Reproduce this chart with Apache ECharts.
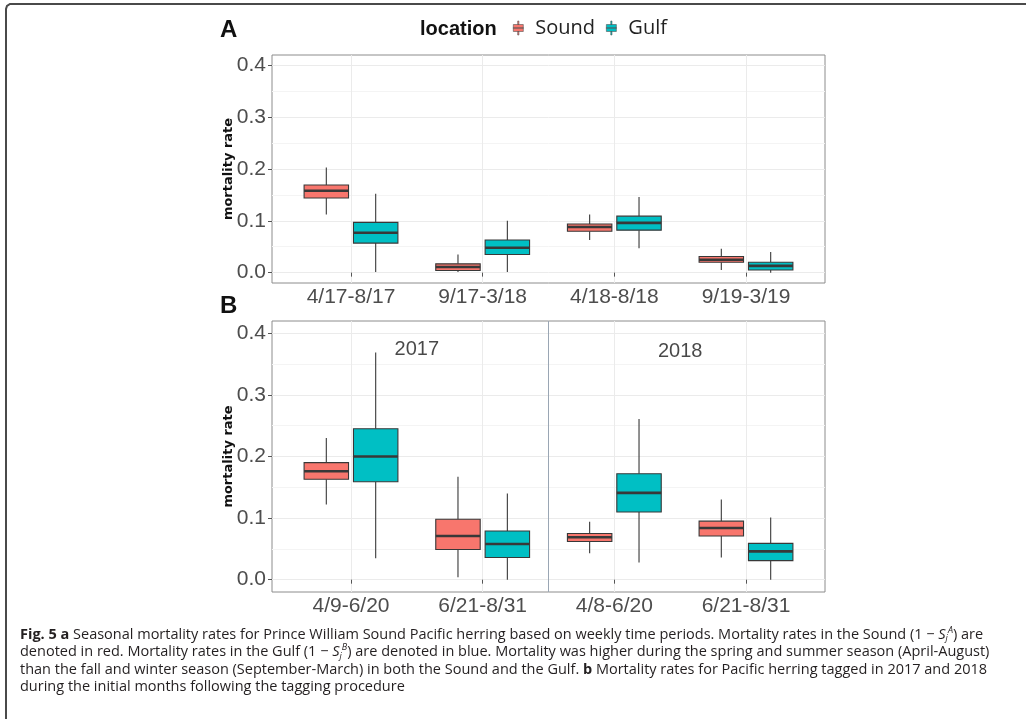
<!DOCTYPE html>
<html>
<head>
<meta charset="utf-8">
<script src="https://cdn.jsdelivr.net/npm/echarts@6/dist/echarts.min.js"></script>
<style>
  html, body { margin: 0; padding: 0; background: #ffffff; }
  #chart { width: 1026px; height: 719px; }
</style>
</head>
<body>
<div id="chart"></div>
<script>
// Time windows on the x axis of each panel
const categoriesA = ['4/17-8/17', '9/17-3/18', '4/18-8/18', '9/19-3/19'];
const categoriesB = ['4/9-6/20', '6/21-8/31', '4/8-6/20', '6/21-8/31'];

// Box statistics per window: [lower whisker, Q1, median, Q3, upper whisker]
const soundA = [
  [0.112, 0.144, 0.158, 0.169, 0.203],
  [0.001, 0.004, 0.011, 0.017, 0.035],
  [0.063, 0.080, 0.088, 0.094, 0.112],
  [0.005, 0.020, 0.025, 0.031, 0.046]
];
const gulfA = [
  [0.001, 0.057, 0.077, 0.097, 0.152],
  [0.001, 0.035, 0.048, 0.063, 0.100],
  [0.047, 0.082, 0.096, 0.109, 0.146],
  [0.000, 0.005, 0.013, 0.020, 0.040]
];
const soundB = [
  [0.122, 0.163, 0.176, 0.190, 0.230],
  [0.004, 0.049, 0.071, 0.098, 0.167],
  [0.043, 0.062, 0.069, 0.075, 0.094],
  [0.036, 0.071, 0.084, 0.095, 0.130]
];
const gulfB = [
  [0.035, 0.159, 0.200, 0.245, 0.369],
  [0.000, 0.036, 0.058, 0.079, 0.140],
  [0.028, 0.110, 0.141, 0.172, 0.261],
  [0.000, 0.031, 0.046, 0.059, 0.101]
];

// Axis ticks
const xTickValues = [1, 2, 3, 4];
const yTickValues = [0, 0.1, 0.2, 0.3, 0.4];
const yMinorValues = [0.05, 0.15, 0.25, 0.35];

// Year annotations in panel B and the divider between years
const yearLabels = ['2017', '2018'];
const yearLabelX = [1.5, 3.5];
const yearLabelY = [0.374, 0.371];
const yearDividerX = 2.5;

const SOUND_COLOR = '#F8766D';
const GULF_COLOR = '#00BFC4';
const OUTLINE = '#383838';
const DODGE = 0.1875;     // centre offset of each box, in category units
const BOX_WIDTH = 0.3375; // box width, in category units

function toBoxData(stats) {
  return stats.map(function (s, i) { return [i + 1].concat(s); });
}

function boxRenderer(offset) {
  return function (params, api) {
    const x = api.value(0);
    const unit = api.size([1, 0])[0];
    const cx = api.coord([x, 0])[0] + offset * unit;
    const half = BOX_WIDTH * unit / 2;
    const yAt = function (dim) { return api.coord([x, api.value(dim)])[1]; };
    const yMin = yAt(1), yQ1 = yAt(2), yMed = yAt(3), yQ3 = yAt(4), yMax = yAt(5);
    const fill = api.visual('color');
    return {
      type: 'group',
      children: [
        { type: 'line', shape: { x1: cx, y1: yMax, x2: cx, y2: yQ3 }, style: { stroke: OUTLINE, lineWidth: 1.1 } },
        { type: 'line', shape: { x1: cx, y1: yQ1, x2: cx, y2: yMin }, style: { stroke: OUTLINE, lineWidth: 1.1 } },
        { type: 'rect', shape: { x: cx - half, y: yQ3, width: 2 * half, height: yQ1 - yQ3 },
          style: { fill: fill, stroke: OUTLINE, lineWidth: 1.1 } },
        { type: 'line', shape: { x1: cx - half, y1: yMed, x2: cx + half, y2: yMed }, style: { stroke: OUTLINE, lineWidth: 2.6 } }
      ]
    };
  };
}

const tickFont = { fontFamily: 'Liberation Sans', fontSize: 21, color: '#4d4d4d' };

function xAxisFor(gridIndex, labels) {
  return {
    type: 'value', gridIndex: gridIndex, min: 0.4, max: 4.6,
    axisLine: { show: false },
    axisTick: { show: true, customValues: xTickValues, length: 4, lineStyle: { color: '#555', width: 1 } },
    axisLabel: Object.assign({ customValues: xTickValues, margin: 4,
      formatter: function (v) { return labels[Math.round(v) - 1] || ''; } }, tickFont),
    splitLine: { show: true, lineStyle: { color: '#ebebeb', width: 1 } }
  };
}

function yAxisFor(gridIndex) {
  return {
    type: 'value', gridIndex: gridIndex, min: -0.02, max: 0.42,
    name: 'mortality rate', nameLocation: 'middle', nameRotate: 90, nameGap: 37,
    nameMoveOverlap: false,
    nameTextStyle: { fontFamily: 'DejaVu Sans', fontWeight: 'bold', fontSize: 13, color: '#111' },
    axisLine: { show: false },
    axisTick: { show: true, customValues: yTickValues, length: 4, lineStyle: { color: '#555', width: 1 } },
    axisLabel: Object.assign({ customValues: yTickValues, margin: 6,
      formatter: function (v) { return v.toFixed(1); } }, tickFont),
    splitLine: { show: true, lineStyle: { color: '#ebebeb', width: 1 } }
  };
}

function yMinorAxisFor(gridIndex) {
  return {
    type: 'value', gridIndex: gridIndex, min: -0.02, max: 0.42, position: 'left',
    axisLine: { show: false },
    axisTick: { show: false, customValues: yMinorValues },
    axisLabel: { show: false },
    splitLine: { show: true, lineStyle: { color: '#f4f4f4', width: 1 } }
  };
}

const legendIcon = 'path://M4.4,0H5.6V3.5H4.4Z M0,3.5H10V10.5H0Z M0,6.6H10V7.4H0Z M4.4,10.5H5.6V14H4.4Z';

const captionLines = [
  '{b|Fig. 5 a} Seasonal mortality rates for Prince William Sound Pacific herring based on weekly time periods. Mortality rates in the Sound (1 − {i|S}{sub|j}{sup|A}) are',
  'denoted in red. Mortality rates in the Gulf (1 − {i|S}{sub|j}{sup|B}) are denoted in blue. Mortality was higher during the spring and summer season (April-August)',
  'than the fall and winter season (September-March) in both the Sound and the Gulf. {b|b} Mortality rates for Pacific herring tagged in 2017 and 2018',
  'during the initial months following the tagging procedure'
];

const CAPTION_SIZE = 14.5;
const CAPTION_LINE = 17.4;

const chart = echarts.init(document.getElementById('chart'), null, { renderer: 'canvas' });

chart.setOption({
  backgroundColor: '#ffffff',
  animation: false,
  title: [
    { text: 'A', left: 215, top: 13, textStyle: { fontFamily: 'Liberation Sans', fontWeight: 'bold', fontSize: 24, color: '#111' } },
    { text: 'B', left: 215, top: 289, textStyle: { fontFamily: 'Liberation Sans', fontWeight: 'bold', fontSize: 24, color: '#111' } },
    { text: 'location', left: 415, top: 14, textStyle: { fontFamily: 'Liberation Sans', fontWeight: 'bold', fontSize: 20, color: '#111' } }
  ],
  legend: {
    left: 508, top: 13, itemWidth: 24, itemHeight: 14, itemGap: 11,
    textStyle: { fontFamily: 'Open Sans', fontSize: 20, color: '#222' },
    data: [
      { name: 'Sound', icon: legendIcon, itemStyle: { color: SOUND_COLOR, borderColor: '#555', borderWidth: 0.6 } },
      { name: 'Gulf', icon: legendIcon, itemStyle: { color: GULF_COLOR, borderColor: '#555', borderWidth: 0.6 } }
    ]
  },
  grid: [
    { left: 272, top: 55, width: 553, height: 228, show: true, borderColor: '#8c8c8c', borderWidth: 1, backgroundColor: '#fff' },
    { left: 272, top: 321, width: 553, height: 271, show: true, borderColor: '#8c8c8c', borderWidth: 1, backgroundColor: '#fff' }
  ],
  xAxis: [xAxisFor(0, categoriesA), xAxisFor(1, categoriesB)],
  yAxis: [yAxisFor(0), yMinorAxisFor(0), yAxisFor(1), yMinorAxisFor(1)],
  series: [
    { name: 'Sound', type: 'custom', xAxisIndex: 0, yAxisIndex: 0, itemStyle: { color: SOUND_COLOR },
      encode: { x: 0, y: [1, 2, 3, 4, 5] }, data: toBoxData(soundA), renderItem: boxRenderer(-DODGE) },
    { name: 'Gulf', type: 'custom', xAxisIndex: 0, yAxisIndex: 0, itemStyle: { color: GULF_COLOR },
      encode: { x: 0, y: [1, 2, 3, 4, 5] }, data: toBoxData(gulfA), renderItem: boxRenderer(DODGE) },
    { name: 'Sound', type: 'custom', xAxisIndex: 1, yAxisIndex: 2, itemStyle: { color: SOUND_COLOR },
      encode: { x: 0, y: [1, 2, 3, 4, 5] }, data: toBoxData(soundB), renderItem: boxRenderer(-DODGE) },
    { name: 'Gulf', type: 'custom', xAxisIndex: 1, yAxisIndex: 2, itemStyle: { color: GULF_COLOR },
      encode: { x: 0, y: [1, 2, 3, 4, 5] }, data: toBoxData(gulfB), renderItem: boxRenderer(DODGE),
      markLine: {
        silent: true, symbol: 'none', label: { show: false },
        lineStyle: { color: '#9aa6b4', width: 1, type: 'solid' },
        data: [{ xAxis: yearDividerX }]
      } },
    { name: 'year', type: 'scatter', xAxisIndex: 1, yAxisIndex: 2, symbolSize: 0, silent: true,
      data: yearLabels.map(function (t, i) { return [yearLabelX[i], yearLabelY[i], t]; }),
      label: { show: true, position: 'inside', formatter: function (p) { return p.value[2]; },
        fontFamily: 'Liberation Sans', fontSize: 20, color: '#1a1a1a' } }
  ],
  graphic: [
    { type: 'polyline', silent: true,
      shape: { points: [[6, 719], [6, 9], [7, 6], [10, 4], [1026, 4]] },
      style: { stroke: '#4a4a4a', lineWidth: 2, fill: null } },
    { type: 'text', left: 20, top: 626, silent: true,
      style: {
        text: captionLines.join('\n'),
        fontFamily: 'Open Sans', fontSize: CAPTION_SIZE, fill: '#231f20', lineHeight: CAPTION_LINE,
        rich: {
          b: { fontWeight: 'bold', fontSize: CAPTION_SIZE, lineHeight: CAPTION_LINE, fontFamily: 'Open Sans' },
          i: { fontStyle: 'italic', fontSize: CAPTION_SIZE, lineHeight: CAPTION_LINE, fontFamily: 'Open Sans' },
          sup: { fontStyle: 'italic', fontSize: 9, lineHeight: CAPTION_LINE, verticalAlign: 'top', fontFamily: 'Open Sans' },
          sub: { fontStyle: 'italic', fontSize: 9, lineHeight: CAPTION_LINE, verticalAlign: 'bottom', fontFamily: 'Open Sans' }
        }
      } }
  ]
});
</script>
</body>
</html>
